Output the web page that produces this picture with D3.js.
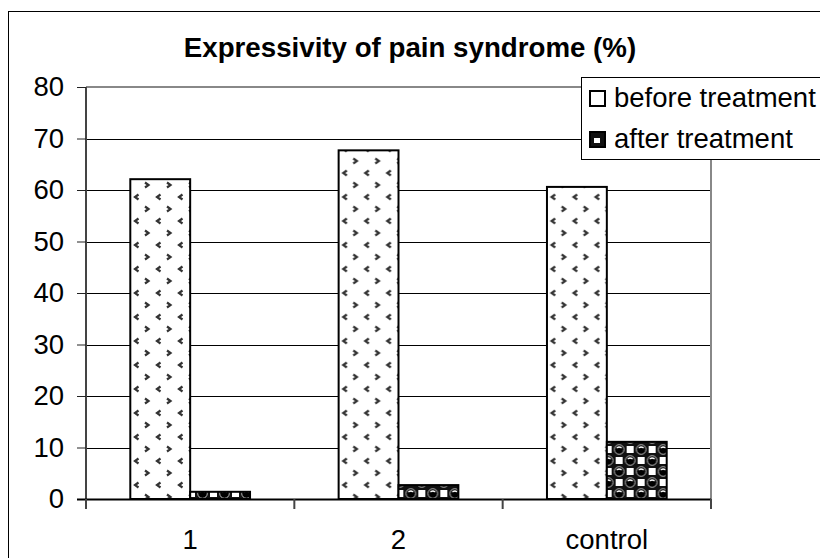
<!DOCTYPE html>
<html>
<head>
<meta charset="utf-8">
<script src="https://cdn.jsdelivr.net/npm/d3@7"></script>
<style>
  body { margin: 0; background: #fff; }
  svg { display: block; font-family: "Liberation Sans", Arial, sans-serif; }
</style>
</head>
<body>
<div id="chart"></div>
<script>
// data
var categories = ["1", "2", "control"];
var seriesNames = ["before treatment", "after treatment"];
var beforeValues = [62.1, 67.7, 60.6];
var afterValues = [1.4, 2.7, 11.1];
var yTicks = [0, 10, 20, 30, 40, 50, 60, 70, 80];

var width = 820, height = 558;
var plot = {left: 86, right: 711, top: 87, bottom: 499};
var fontSize = 27.5;

var svg = d3.select("#chart").append("svg")
	.attr("width", width)
	.attr("height", height);

var defs = svg.append("defs");

// "before" fill: white with little < > marks
var pBefore = defs.append("pattern")
	.attr("id", "pat-before")
	.attr("patternUnits", "userSpaceOnUse")
	.attr("width", 22).attr("height", 24);
pBefore.append("rect").attr("width", 22).attr("height", 24).attr("fill", "#fff");
pBefore.append("path")
	.attr("d", "M8.5,2.5 L5,5 L8.5,7.5 M15,14.5 L18.5,17 L15,19.5")
	.attr("fill", "none").attr("stroke", "#333").attr("stroke-width", 2.2);

// "after" fill: black balls and white squares on an ~11px checker grid
var pAfter = defs.append("pattern")
	.attr("id", "pat-after")
	.attr("patternUnits", "userSpaceOnUse")
	.attr("x", 606).attr("y", 499)
	.attr("width", 22).attr("height", 22);
pAfter.append("rect").attr("width", 22).attr("height", 22).attr("fill", "#111");
[[16.5, 5.5], [5.5, 16.5]].forEach(function(c){
	pAfter.append("rect").attr("x", c[0] - 3.5).attr("y", c[1] - 3.5)
		.attr("width", 7).attr("height", 7).attr("fill", "#fff");
});
[[5.5, 5.5], [16.5, 16.5]].forEach(function(c){
	pAfter.append("circle").attr("cx", c[0]).attr("cy", c[1]).attr("r", 4.8)
		.attr("fill", "#000").attr("stroke", "#bbb").attr("stroke-width", 1);
	pAfter.append("path")
		.attr("d", "M" + (c[0]-2.4) + "," + (c[1]-1.4) + " Q" + c[0] + "," + (c[1]-3.6) + " " + (c[0]+2.4) + "," + (c[1]-1.4))
		.attr("fill", "none").attr("stroke", "#fff").attr("stroke-width", 1.3);
});

// outer chart border (runs off the right and bottom edges)
svg.append("rect")
	.attr("x", 8.5).attr("y", 11.5)
	.attr("width", 840).attr("height", 600)
	.attr("fill", "none").attr("stroke", "#000").attr("stroke-width", 1);

var x0 = d3.scaleBand()
	.domain(categories)
	.range([plot.left, plot.right]);

var x1 = d3.scaleBand()
	.domain(seriesNames)
	.range([0, x0.bandwidth()])
	.paddingOuter(0.74);

var y = d3.scaleLinear()
	.domain([0, 80])
	.range([plot.bottom, plot.top]);

// gridlines
svg.append("g")
	.selectAll("line")
	.data(yTicks.filter(function(d){ return d > 0 && d < 80; }))
	.enter().append("line")
	.attr("x1", plot.left).attr("x2", plot.right)
	.attr("y1", function(d){ return Math.round(y(d)) + 0.5; })
	.attr("y2", function(d){ return Math.round(y(d)) + 0.5; })
	.attr("stroke", "#000").attr("stroke-width", 1);

// plot area top and right border
svg.append("path")
	.attr("d", "M" + plot.left + "," + plot.top + " H" + plot.right + " V" + plot.bottom)
	.attr("fill", "none").attr("stroke", "#888").attr("stroke-width", 2);

// bars
var groups = svg.append("g").selectAll("g")
	.data(categories)
	.enter().append("g")
	.attr("transform", function(d){ return "translate(" + x0(d) + ",0)"; });

groups.selectAll("rect")
	.data(function(d, i){
		return [
			{series: seriesNames[0], value: beforeValues[i]},
			{series: seriesNames[1], value: afterValues[i]}
		];
	})
	.enter().append("rect")
	.attr("x", function(d){ return x1(d.series); })
	.attr("width", x1.bandwidth())
	.attr("y", function(d){ return y(d.value); })
	.attr("height", function(d){ return y(0) - y(d.value); })
	.attr("fill", function(d){ return d.series == seriesNames[0] ? "url(#pat-before)" : "url(#pat-after)"; })
	.attr("stroke", "#000")
	.attr("stroke-width", 2);

// y axis
var yAxis = svg.append("g")
	.attr("transform", "translate(" + plot.left + ",0)")
	.call(d3.axisLeft(y).tickValues(yTicks).tickSize(9).tickPadding(13));
yAxis.select(".domain")
	.attr("d", "M0," + plot.top + " V" + (plot.bottom + 10))
	.attr("stroke", "#444").attr("stroke-width", 2);
yAxis.selectAll(".tick line").attr("stroke", "#222");
yAxis.selectAll(".tick text")
	.attr("font-size", fontSize).attr("fill", "#000")
	.attr("font-family", "Liberation Sans, Arial, sans-serif");

// x axis
var xAxis = svg.append("g")
	.attr("transform", "translate(0," + plot.bottom + ")");
xAxis.append("line")
	.attr("x1", plot.left - 9).attr("x2", plot.right)
	.attr("y1", 0.5).attr("y2", 0.5)
	.attr("stroke", "#000").attr("stroke-width", 2);
xAxis.selectAll(".xtick")
	.data(categories.concat(["end"]))
	.enter().append("line")
	.attr("x1", function(d){ return d == "end" ? plot.right : x0(d); })
	.attr("x2", function(d){ return d == "end" ? plot.right : x0(d); })
	.attr("y1", 0).attr("y2", 10)
	.attr("stroke", "#444").attr("stroke-width", 2);
xAxis.selectAll(".xlabel")
	.data(categories)
	.enter().append("text")
	.attr("x", function(d){ return x0(d) + x0.bandwidth() / 2; })
	.attr("y", 50)
	.attr("text-anchor", "middle")
	.attr("font-size", fontSize)
	.text(function(d){ return d; });

// title
svg.append("text")
	.attr("x", 410).attr("y", 57)
	.attr("text-anchor", "middle")
	.attr("font-size", 27.7).attr("font-weight", "bold")
	.text("Expressivity of pain syndrome (%)");

// legend
var legend = svg.append("g");
legend.append("rect")
	.attr("x", 581.5).attr("y", 77.5)
	.attr("width", 260).attr("height", 82)
	.attr("fill", "#fff").attr("stroke", "#000").attr("stroke-width", 1);
var items = legend.selectAll(".item")
	.data(seriesNames)
	.enter().append("g")
	.attr("transform", function(d, i){ return "translate(0," + (i * 41) + ")"; });
items.append("rect")
	.attr("x", 590).attr("y", 91)
	.attr("width", 15).attr("height", 15)
	.attr("fill", function(d, i){ return i == 0 ? "#fff" : "#111"; })
	.attr("stroke", "#000").attr("stroke-width", 2);
items.filter(function(d, i){ return i == 1; }).append("rect")
	.attr("x", 594).attr("y", 97)
	.attr("width", 6).attr("height", 5)
	.attr("fill", "#fff");
items.append("text")
	.attr("x", 614).attr("y", 107)
	.attr("font-size", fontSize)
	.text(function(d){ return d; });
</script>
</body>
</html>
